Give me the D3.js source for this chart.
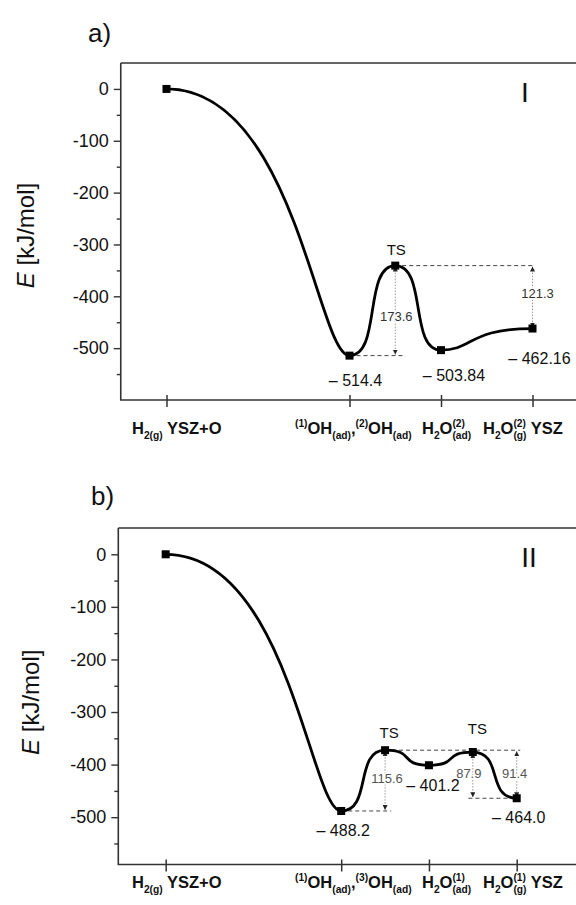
<!DOCTYPE html>
<html>
<head>
<meta charset="utf-8">
<script src="https://cdn.jsdelivr.net/npm/d3@7"></script>
<style>
  body { margin: 0; background: #fff; }
  svg { display: block; font-family: "Liberation Sans", Arial, sans-serif; }
</style>
</head>
<body>
<svg id="chart" width="576" height="905"></svg>
<script>
// ---- route I (panel a) ----
const posA = [0, 2, 2.5, 3, 4];
const energyA = [0, -514.4, -340.8, -503.84, -462.16];
const textA = ["", "\u2013 514.4", "TS", "\u2013 503.84", "\u2013 462.16"];
const gapXA = [2.5, 4];
const gapTopA = [-340.8, -340.8];
const gapLowA = [-514.4, -462.16];
const gapTextA = ["173.6", "121.3"];
const guideLevelA = [-514.4, -340.8];
const guideFromA = [2, 2.5];
const guideToA = [2.6, 4.03];

// ---- route II (panel b) ----
const posB = [0, 2, 2.5, 3, 3.5, 4];
const energyB = [0, -488.2, -372.6, -401.2, -376.1, -464.0];
const textB = ["", "\u2013 488.2", "TS", "\u2013 401.2", "TS", "\u2013 464.0"];
const gapXB = [2.5, 3.5, 4];
const gapTopB = [-372.6, -376.1, -372.6];
const gapLowB = [-488.2, -464.0, -464.0];
const gapTextB = ["115.6", "87.9", "91.4"];
const guideLevelB = [-488.2, -464.0, -372.6];
const guideFromB = [2, 3.45, 2.5];
const guideToB = [2.57, 4, 4.04];

// ---- shared axes ----
const tickPos = [0, 2, 3, 4];
const yMajor = [0, -100, -200, -300, -400, -500];
const yMinor = [-50, -150, -250, -350, -450, -550];
const catA = [
    [{t: "H"}, {t: "2(g)", k: "sub"}, {t: " YSZ+O"}],
    [{t: "(1)", k: "sup"}, {t: "OH"}, {t: "(ad)", k: "sub"}, {t: ","}, {t: "(2)", k: "sup"}, {t: "OH"}, {t: "(ad)", k: "sub"}],
    [{t: "H"}, {t: "2", k: "sub"}, {t: "O"}, {stack: ["(2)", "(ad)"]}],
    [{t: "H"}, {t: "2", k: "sub"}, {t: "O"}, {stack: ["(2)", "(g)"]}, {t: " YSZ"}]
];
const catB = [
    [{t: "H"}, {t: "2(g)", k: "sub"}, {t: " YSZ+O"}],
    [{t: "(1)", k: "sup"}, {t: "OH"}, {t: "(ad)", k: "sub"}, {t: ","}, {t: "(3)", k: "sup"}, {t: "OH"}, {t: "(ad)", k: "sub"}],
    [{t: "H"}, {t: "2", k: "sub"}, {t: "O"}, {stack: ["(1)", "(ad)"]}],
    [{t: "H"}, {t: "2", k: "sub"}, {t: "O"}, {stack: ["(1)", "(g)"]}, {t: " YSZ"}]
];

let svg = d3.select("#chart");

svg.append("defs").append("marker")
    .attr("id", "ah")
    .attr("viewBox", "0 0 6 6")
    .attr("refX", 6).attr("refY", 3)
    .attr("markerWidth", 5).attr("markerHeight", 5)
    .attr("markerUnits", "userSpaceOnUse")
    .attr("orient", "auto-start-reverse")
    .append("path")
    .attr("d", "M0,0L6,3L0,6z")
    .attr("fill", "#222");

// smooth profile: horizontal tangent at every state, arm length from the nearest neighbour
function profileCurve(context) {
    let pts;
    return {
        areaStart() {}, areaEnd() {},
        lineStart() { pts = []; },
        point(x, y) { pts.push([+x, +y]); },
        lineEnd() {
            let n = pts.length;
            if (!n) return;
            let arm = function (i) {
                let hl = i > 0 ? pts[i][0] - pts[i - 1][0] : Infinity;
                let hr = i < n - 1 ? pts[i + 1][0] - pts[i][0] : Infinity;
                return 0.7 * Math.min(hl, hr);
            };
            context.moveTo(pts[0][0], pts[0][1]);
            for (let i = 0; i < n - 1; i++) {
                let a = pts[i], b = pts[i + 1];
                context.bezierCurveTo(a[0] + arm(i), a[1], b[0] - arm(i + 1), b[1], b[0], b[1]);
            }
        }
    };
}

function richLabel(g, x, y, parts, size) {
    let t = g.append("text").attr("x", x).attr("y", y)
        .attr("font-weight", "bold").attr("font-size", size).attr("fill", "#111");
    let small = size * 0.62;
    let cur = 0, pendDx = 0;
    function seg(str, off, fs) {
        let s = t.append("tspan").text(str).attr("font-size", fs).attr("dy", off - cur);
        if (pendDx) s.attr("dx", pendDx);
        pendDx = 0;
        cur = off;
        return s;
    }
    parts.forEach(function (p) {
        if (p.stack) {
            let a = seg(p.stack[0], -0.42 * size, small);
            let wa = a.node().getComputedTextLength();
            pendDx = -wa;
            let b = seg(p.stack[1], 0.28 * size, small);
            let wb = b.node().getComputedTextLength();
            pendDx = Math.max(0, wa - wb);
        } else if (p.k === "sub") {
            seg(p.t, 0.28 * size, small);
        } else if (p.k === "sup") {
            seg(p.t, -0.42 * size, small);
        } else {
            seg(p.t, 0, size);
        }
    });
}

function drawPanel(cfg) {
    let x = d3.scaleLinear().domain(cfg.xDomain).range(cfg.xRange);
    let y = d3.scaleLinear().domain(cfg.yDomain).range(cfg.yRange);
    let g = svg.append("g");
    let left = cfg.xRange[0], bottom = cfg.yRange[0], top = cfg.yRange[1];

    // frame
    g.append("path")
        .attr("d", `M${left},${top}H600M${left},${top}V${bottom}H600`)
        .attr("fill", "none").attr("stroke", "#333").attr("stroke-width", 1.6);

    // y axis
    let yAxis = g.append("g").attr("transform", `translate(${left},0)`)
        .call(d3.axisLeft(y).tickValues(yMajor).tickSize(7).tickPadding(5).tickFormat(d => String(d)));
    yAxis.select(".domain").remove();
    yAxis.selectAll("line").attr("stroke", "#333").attr("stroke-width", 1.4);
    yAxis.selectAll("text").attr("font-size", 18).attr("fill", "#111")
        .attr("font-family", "Liberation Sans, Arial, sans-serif");
    let yMinorAxis = g.append("g").attr("transform", `translate(${left},0)`)
        .call(d3.axisLeft(y).tickValues(yMinor).tickSize(4).tickFormat(""));
    yMinorAxis.select(".domain").remove();
    yMinorAxis.selectAll("line").attr("stroke", "#333").attr("stroke-width", 1.4);

    // x ticks crossing the axis
    let xAxis = g.append("g").attr("transform", `translate(0,${bottom - 5})`)
        .call(d3.axisBottom(x).tickValues(tickPos).tickSize(12).tickFormat(""));
    xAxis.select(".domain").remove();
    xAxis.selectAll("line").attr("stroke", "#333").attr("stroke-width", 1.5);

    cfg.cats.forEach(function (parts, i) {
        richLabel(g, cfg.catX[i], cfg.catY, parts, 16.5);
    });

    // guides
    cfg.guideLevel.forEach(function (lv, i) {
        g.append("line")
            .attr("x1", x(cfg.guideFrom[i])).attr("x2", x(cfg.guideTo[i]))
            .attr("y1", y(lv)).attr("y2", y(lv))
            .attr("stroke", "#444").attr("stroke-width", 1).attr("stroke-dasharray", "4,3");
    });

    cfg.gapX.forEach(function (gx, i) {
        g.append("line")
            .attr("x1", x(gx)).attr("x2", x(gx))
            .attr("y1", y(cfg.gapTop[i]) + 1).attr("y2", y(cfg.gapLow[i]) - 1)
            .attr("stroke", "#999").attr("stroke-width", 1).attr("stroke-dasharray", "1.5,1.5")
            .attr("marker-start", "url(#ah)").attr("marker-end", "url(#ah)");
        g.append("text")
            .attr("x", x(gx) + cfg.gapOff[i][0])
            .attr("y", (y(cfg.gapTop[i]) + y(cfg.gapLow[i])) / 2 + cfg.gapOff[i][1])
            .attr("text-anchor", "middle").attr("dominant-baseline", "central")
            .attr("font-size", 13).attr("fill", cfg.gapColor)
            .attr("stroke", "#fff").attr("stroke-width", 3).attr("paint-order", "stroke")
            .text(cfg.gapText[i]);
    });

    // profile
    let pts = cfg.pos.map((p, i) => [p, cfg.energy[i]]);
    let line = d3.line().x(d => x(d[0])).y(d => y(d[1])).curve(profileCurve);
    g.append("path").datum(pts)
        .attr("d", line)
        .attr("fill", "none").attr("stroke", "#000").attr("stroke-width", 2.8);

    g.selectAll("rect.st").data(pts).enter().append("rect")
        .attr("class", "st")
        .attr("x", d => x(d[0]) - 4).attr("y", d => y(d[1]) - 4)
        .attr("width", 8).attr("height", 8).attr("fill", "#000");

    cfg.text.forEach(function (s, i) {
        if (!s) return;
        g.append("text")
            .attr("x", x(cfg.pos[i]) + cfg.textOff[i][0])
            .attr("y", y(cfg.energy[i]) + cfg.textOff[i][1])
            .attr("text-anchor", "middle")
            .attr("font-size", s === "TS" ? 15 : 16).attr("fill", "#111")
            .text(s);
    });

    // axis title
    let ty = (top + bottom) / 2 + cfg.titleShift;
    let title = g.append("text")
        .attr("transform", `translate(${cfg.titleX},${ty}) rotate(-90)`)
        .attr("text-anchor", "middle").attr("font-size", 24).attr("fill", "#111");
    title.append("tspan").attr("font-style", "italic").text("E");
    title.append("tspan").text(" [kJ/mol]");

    g.append("text").attr("x", cfg.tagX).attr("y", cfg.tagY)
        .attr("font-size", 26).attr("fill", "#111").text(cfg.tag);
    g.append("text").attr("x", cfg.romanX).attr("y", cfg.romanY)
        .attr("text-anchor", "middle").attr("font-size", 28).attr("fill", "#111").text(cfg.roman);
}

drawPanel({
    xDomain: [-0.5, 4.6], xRange: [120.75, 587.4],
    yDomain: [-600, 50], yRange: [400, 63],
    pos: posA, energy: energyA, text: textA,
    textOff: [[0, 0], [6, 30], [1, -11], [13, 31], [7, 35]],
    gapX: gapXA, gapTop: gapTopA, gapLow: gapLowA, gapText: gapTextA,
    gapOff: [[1, 6], [5, -4]], gapColor: "#333",
    guideLevel: guideLevelA, guideFrom: guideFromA, guideTo: guideToA,
    cats: catA, catX: [132, 295, 422, 483], catY: 434,
    titleX: 34, titleShift: 4, tag: "a)", tagX: 88, tagY: 42,
    roman: "I", romanX: 525, romanY: 102
});

drawPanel({
    xDomain: [-0.54, 4.8], xRange: [118.3, 586.9],
    yDomain: [-590, 50], yRange: [864.5, 528],
    pos: posB, energy: energyB, text: textB,
    textOff: [[0, 0], [2, 25], [4, -12], [4, 26], [4.5, -18], [2, 25]],
    gapX: gapXB, gapTop: gapTopB, gapLow: gapLowB, gapText: gapTextB,
    gapOff: [[2, -2], [-4, -2], [-2, -1]], gapColor: "#555",
    guideLevel: guideLevelB, guideFrom: guideFromB, guideTo: guideToB,
    cats: catB, catX: [132, 295, 422, 483], catY: 888,
    titleX: 39, titleShift: 6, tag: "b)", tagX: 91, tagY: 505,
    roman: "II", romanX: 529, romanY: 567
});
</script>
</body>
</html>
